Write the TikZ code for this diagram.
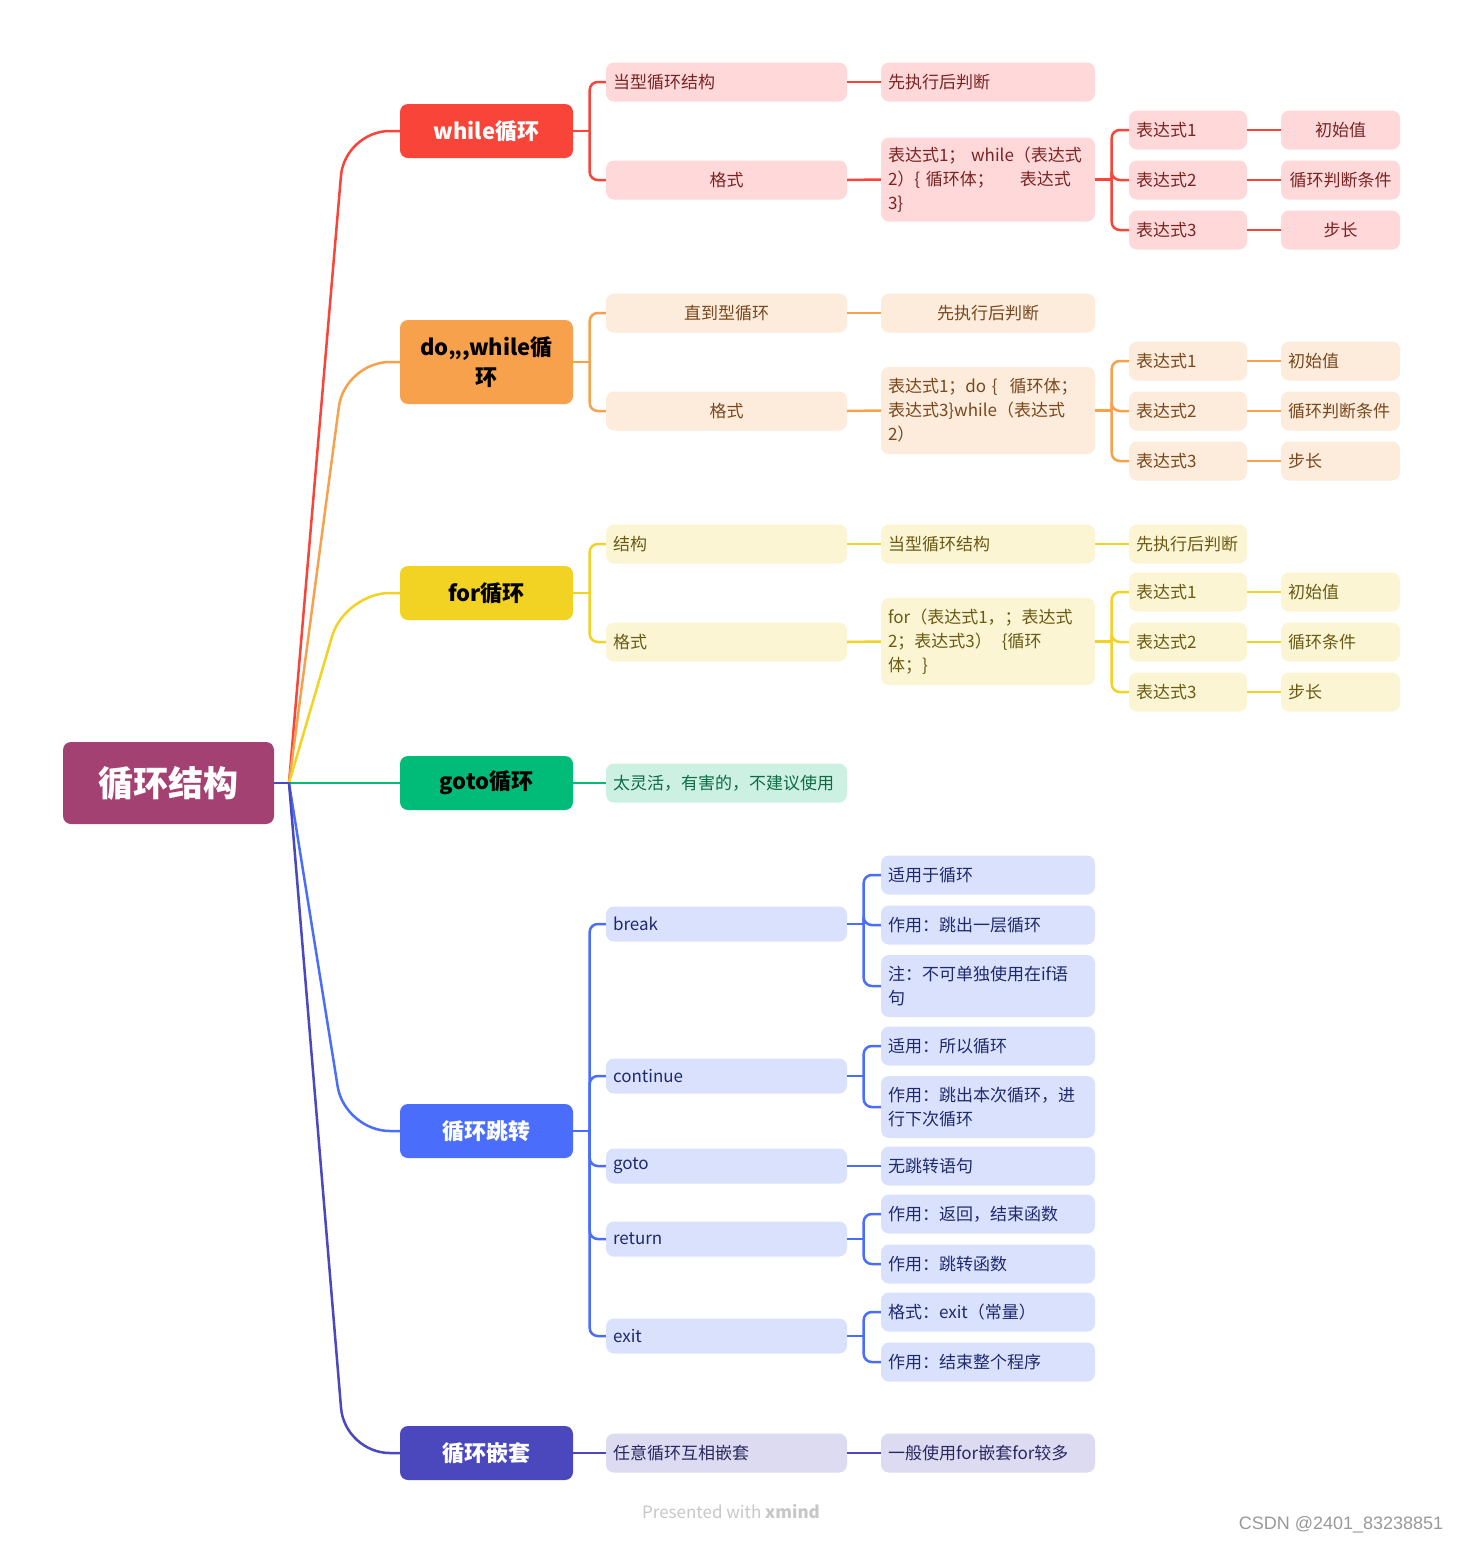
\documentclass[tikz,border=0pt]{standalone}
\usepackage{fontspec}
\setmainfont{Noto Sans CJK SC}
\newfontfamily\csdnfont{Liberation Sans}
\usetikzlibrary{calc}
\definecolor{cRoot}{RGB}{163,65,114}
\definecolor{cRed}{RGB}{249,68,58}
\definecolor{cOrg}{RGB}{247,161,77}
\definecolor{cYel}{RGB}{242,210,34}
\definecolor{cGrn}{RGB}{0,188,120}
\definecolor{cBlu}{RGB}{74,110,251}
\definecolor{cInd}{RGB}{75,72,190}
\definecolor{fRed}{RGB}{255,217,217}
\definecolor{fOrg}{RGB}{253,235,219}
\definecolor{fYel}{RGB}{252,245,212}
\definecolor{fGrn}{RGB}{204,241,226}
\definecolor{fBlu}{RGB}{218,225,253}
\definecolor{fInd}{RGB}{220,219,242}
\definecolor{tRed}{RGB}{122,35,35}
\definecolor{tOrg}{RGB}{120,72,30}
\definecolor{tYel}{RGB}{105,90,20}
\definecolor{tGrn}{RGB}{14,107,71}
\definecolor{tBlu}{RGB}{30,42,110}
\definecolor{tInd}{RGB}{42,40,96}
\newcommand\branchto[3]{%
  \draw[#1] (#2.east) -- ++(16.5,0) coordinate (#2-s);
  \foreach \kid in {#3} {\draw[#1, rounded corners=8] (#2-s) |- (\kid.west);}}
\begin{document}
\begin{tikzpicture}[x=1pt,y=-1pt,
  box/.style={rounded corners=8, inner xsep=7, inner ysep=2, minimum height=39,
    font=\fontsize{17}{24}\selectfont, anchor=center},
  wA/.style={box, text width=227},
  wB/.style={box, text width=200},
  wC/.style={box, text width=104},
  wD/.style={box, text width=105},
  lft/.style={align=left},
  ctr/.style={align=center},
  topic/.style={rounded corners=8, minimum width=173, minimum height=54, inner sep=0,
    font=\fontsize{22}{30}\selectfont\bfseries, align=center},
  redset/.style={fill=fRed, text=tRed},
  orgset/.style={fill=fOrg, text=tOrg},
  yelset/.style={fill=fYel, text=tYel},
  grnset/.style={fill=fGrn, text=tGrn},
  bluset/.style={fill=fBlu, text=tBlu},
  indset/.style={fill=fInd, text=tInd},
  ln/.style={draw=#1, line width=2.5}
]
\fill[white] (0,0) rectangle (1463,1543);
\useasboundingbox (0,0) rectangle (1463,1543);

% root and main topics
\node[topic, fill=cRoot, text=white, minimum width=211, minimum height=82,
  font=\fontsize{35}{40}\selectfont\bfseries] (R) at (168.5,783) {循环结构};
\coordinate (hub) at (289,783);
\node[topic, fill=cRed, text=white] (A) at (486.5,131) {while循环};
\node[topic, fill=cOrg, minimum height=84] (B) at (486.5,362) {do,,,while循\\环};
\node[topic, fill=cYel] (C) at (486.5,593) {for循环};
\node[topic, fill=cGrn] (D) at (486.5,783) {goto循环};
\node[topic, fill=cBlu, text=white] (E) at (486.5,1131) {循环跳转};
\node[topic, fill=cInd, text=white] (F) at (486.5,1453) {循环嵌套};

% while branch
\node[wA, redset, lft] (A1) at (726.5,82) {当型循环结构};
\node[wA, redset, ctr] (A2) at (726.5,180) {格式};
\node[wB, redset, lft] (A11) at (988,82) {先执行后判断};
\node[wB, redset, lft, minimum height=84] (A21) at (988,179.5) {表达式1； while（表达式\\2）\{ 循环体；\hspace{26pt}表达式\\3\}};
\node[wC, redset, lft] (A211) at (1188,130) {表达式1};
\node[wC, redset, lft] (A212) at (1188,180) {表达式2};
\node[wC, redset, lft] (A213) at (1188,230) {表达式3};
\node[wD, redset, ctr] (A2111) at (1340.5,130) {初始值};
\node[wD, redset, ctr] (A2121) at (1340.5,180) {循环判断条件};
\node[wD, redset, ctr] (A2131) at (1340.5,230) {步长};

% do-while branch
\node[wA, orgset, ctr] (B1) at (726.5,313) {直到型循环};
\node[wA, orgset, ctr] (B2) at (726.5,411) {格式};
\node[wB, orgset, ctr] (B11) at (988,313) {先执行后判断};
\node[wB, orgset, lft, minimum height=87] (B21) at (988,410.5) {表达式1；do \{\hspace{12pt}循环体；\\表达式3\}while（表达式\\2）};
\node[wC, orgset, lft] (B211) at (1188,361) {表达式1};
\node[wC, orgset, lft] (B212) at (1188,411) {表达式2};
\node[wC, orgset, lft] (B213) at (1188,461) {表达式3};
\node[wD, orgset, lft] (B2111) at (1340.5,361) {初始值};
\node[wD, orgset, lft] (B2121) at (1340.5,411) {循环判断条件};
\node[wD, orgset, lft] (B2131) at (1340.5,461) {步长};

% for branch
\node[wA, yelset, lft] (C1) at (726.5,544) {结构};
\node[wA, yelset, lft] (C2) at (726.5,642) {格式};
\node[wB, yelset, lft] (C11) at (988,544) {当型循环结构};
\node[wC, yelset, lft] (C111) at (1188,544) {先执行后判断};
\node[wB, yelset, lft, minimum height=87] (C21) at (988,641.5) {for（表达式1，；表达式\\2；表达式3）\hspace{10pt}\{循环\\体；\}};
\node[wC, yelset, lft] (C211) at (1188,592) {表达式1};
\node[wC, yelset, lft] (C212) at (1188,642) {表达式2};
\node[wC, yelset, lft] (C213) at (1188,692) {表达式3};
\node[wD, yelset, lft] (C2111) at (1340.5,592) {初始值};
\node[wD, yelset, lft] (C2121) at (1340.5,642) {循环条件};
\node[wD, yelset, lft] (C2131) at (1340.5,692) {步长};

% goto branch
\node[wA, grnset, lft] (D1) at (726.5,783) {太灵活，有害的，不建议使用};

% jump branch
\node[wA, bluset, lft, minimum height=35] (E1) at (726.5,924) {break};
\node[wA, bluset, lft, minimum height=35] (E2) at (726.5,1076) {continue};
\node[wA, bluset, lft, minimum height=35] (E3) at (726.5,1166) {goto};
\node[wA, bluset, lft, minimum height=35] (E4) at (726.5,1239) {return};
\node[wA, bluset, lft, minimum height=35] (E5) at (726.5,1336) {exit};
\node[wB, bluset, lft] (E11) at (988,875) {适用于循环};
\node[wB, bluset, lft] (E12) at (988,925) {作用：跳出一层循环};
\node[wB, bluset, lft, minimum height=62] (E13) at (988,986) {注：不可单独使用在if语\\句};
\node[wB, bluset, lft] (E21) at (988,1046) {适用：所以循环};
\node[wB, bluset, lft, minimum height=62] (E22) at (988,1107) {作用：跳出本次循环，进\\行下次循环};
\node[wB, bluset, lft] (E31) at (988,1166) {无跳转语句};
\node[wB, bluset, lft] (E41) at (988,1214) {作用：返回，结束函数};
\node[wB, bluset, lft] (E42) at (988,1264) {作用：跳转函数};
\node[wB, bluset, lft] (E51) at (988,1312) {格式：exit（常量）};
\node[wB, bluset, lft] (E52) at (988,1362) {作用：结束整个程序};

% nesting branch
\node[wA, indset, lft] (F1) at (726.5,1453) {任意循环互相嵌套};
\node[wB, indset, lft] (F11) at (988,1453) {一般使用for嵌套for较多};

% level-1 connectors
\foreach \n/\cc in {A/cRed,B/cOrg,C/cYel} {
  \draw[ln=\cc, rounded corners=45] (hub) -- ($(\n.west)+(-55,0)$) -- (\n.west);}
\draw[ln=cGrn] (hub) -- (D.west);
\foreach \n/\cc in {E/cBlu,F/cInd} {
  \draw[ln=\cc, rounded corners=45] (hub) -- ($(\n.west)+(-55,0)$) -- (\n.west);}
\draw[ln=cInd] (R.east) -- (hub);

% while connectors
\branchto{ln=cRed}{A}{A1,A2}
\draw[ln=cRed] (A1.east) -- (A11.west);
\draw[ln=cRed] (A2.east) -- (A21.west);
\branchto{ln=cRed}{A21}{A211,A212,A213}
\draw[ln=cRed] (A211.east) -- (A2111.west);
\draw[ln=cRed] (A212.east) -- (A2121.west);
\draw[ln=cRed] (A213.east) -- (A2131.west);

% do-while connectors
\branchto{ln=cOrg}{B}{B1,B2}
\draw[ln=cOrg] (B1.east) -- (B11.west);
\draw[ln=cOrg] (B2.east) -- (B21.west);
\branchto{ln=cOrg}{B21}{B211,B212,B213}
\draw[ln=cOrg] (B211.east) -- (B2111.west);
\draw[ln=cOrg] (B212.east) -- (B2121.west);
\draw[ln=cOrg] (B213.east) -- (B2131.west);

% for connectors
\branchto{ln=cYel}{C}{C1,C2}
\draw[ln=cYel] (C1.east) -- (C11.west);
\draw[ln=cYel] (C11.east) -- (C111.west);
\draw[ln=cYel] (C2.east) -- (C21.west);
\branchto{ln=cYel}{C21}{C211,C212,C213}
\draw[ln=cYel] (C211.east) -- (C2111.west);
\draw[ln=cYel] (C212.east) -- (C2121.west);
\draw[ln=cYel] (C213.east) -- (C2131.west);

% goto connector
\draw[ln=cGrn] (D.east) -- (D1.west);

% jump connectors
\branchto{ln=cBlu}{E}{E1,E2,E3,E4,E5}
\branchto{ln=cBlu}{E1}{E11,E12,E13}
\branchto{ln=cBlu}{E2}{E21,E22}
\draw[ln=cBlu] (E3.east) -- (E31.west);
\branchto{ln=cBlu}{E4}{E41,E42}
\branchto{ln=cBlu}{E5}{E51,E52}

% nesting connectors
\draw[ln=cInd] (F.east) -- (F1.west);
\draw[ln=cInd] (F1.east) -- (F11.west);

% footer
\node[text=black!22, font=\fontsize{17}{20}\selectfont] (pw) at (731,1512) {Presented with \textbf{xmind}};
\node[text=black!40, font=\csdnfont\fontsize{18}{20}\selectfont] (csdn) at (1341,1525) {CSDN @2401\_83238851};
\end{tikzpicture}
\end{document}
